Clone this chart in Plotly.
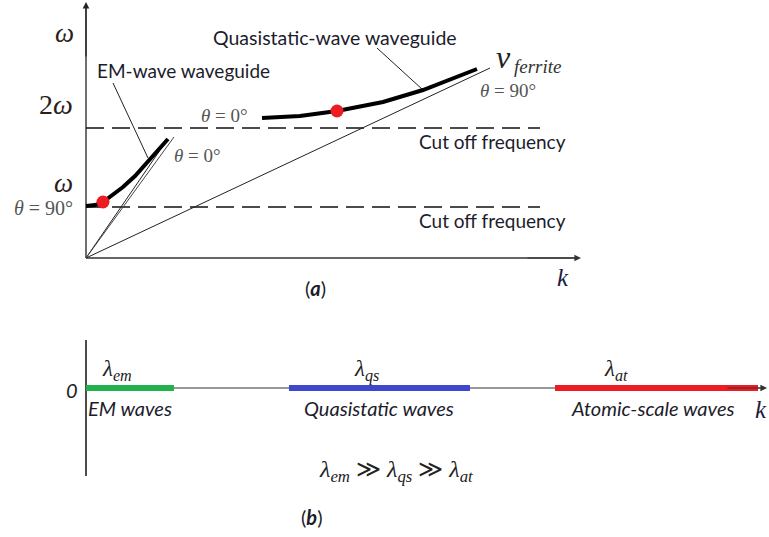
import plotly.graph_objects as go

# ---------------- Panel (a) data (k, omega in schematic units) ----------------
em_k = [0, 9, 17, 27, 37, 49, 61, 72, 82]
em_w = [52, 53, 56, 63, 71, 82, 96, 108, 119]
em_dot = (17, 56)

qs_k = [176, 214, 251, 297, 337, 364, 391]
qs_w = [140, 142, 147, 156, 168, 178, 189]
qs_dot = (251, 147)

ferrite_k = [0, 404]
ferrite_w = [0, 190]
em_asym1_k = [0, 81]
em_asym1_w = [0, 118]
em_asym2_k = [0, 88]
em_asym2_w = [0, 121]

cutoff_levels = [51, 130]
cutoff_k = [0, 454]

em_leader_k = [27, 62]
em_leader_w = [175, 100]
qs_leader_k = [291, 337]
qs_leader_w = [210, 168]

# ---------------- Panel (b) data ----------------
band_names = ["EM waves", "Quasistatic waves", "Atomic-scale waves"]
band_start = [0, 203, 469]
band_end = [88, 384, 672]
band_colors = ["#22b14c", "#3f48cc", "#ed1c24"]
band_lambda = ["<i>λ</i><sub><i>em</i></sub>", "<i>λ</i><sub><i>qs</i></sub>", "<i>λ</i><sub><i>at</i></sub>"]

fig = go.Figure()

TXT = "#1c1c2c"
SERIF = "Liberation Serif"
SANS = "Lato"

W, H = 769, 537
xa = dict(range=[-86, -86 + W], visible=False, domain=[0, 1])
ya = dict(range=[258 - H, 258], visible=False, domain=[0, 1])
xb = dict(range=[-86, -86 + W], visible=False, domain=[0, 1], overlaying="x")
yb = dict(range=[388 - H, 388], visible=False, domain=[0, 1], overlaying="y")

def line(x, y, w=1, color="black", dash=None, xa_="x", ya_="y"):
    fig.add_trace(go.Scatter(x=x, y=y, mode="lines", xaxis=xa_, yaxis=ya_,
                             line=dict(color=color, width=w, dash=dash),
                             hoverinfo="skip", showlegend=False))

line([0, 0], [0, 252], 1.3, "#222")
line([0, 490], [0, 0], 1.4, "#333")

for lev in cutoff_levels:
    line(cutoff_k, [lev, lev], 1.3, "#111", dash="18px,8px")

line(ferrite_k, ferrite_w, 1, "#222")
line(em_asym1_k, em_asym1_w, 1, "#222")
line(em_asym2_k, em_asym2_w, 1, "#444")

line(em_leader_k, em_leader_w, 1, "#222")
line(qs_leader_k, qs_leader_w, 1, "#222")

line(em_k, em_w, 4, "black")
line(qs_k, qs_w, 4, "black")

fig.add_trace(go.Scatter(x=[em_dot[0], qs_dot[0]], y=[em_dot[1], qs_dot[1]], mode="markers",
                         marker=dict(color="#ed1c24", size=13), hoverinfo="skip", showlegend=False))

line([0, 676], [0, 0], 1.2, "#333", xa_="x2", ya_="y2")
line([0, 0], [48, -88], 1.5, "#111", xa_="x2", ya_="y2")
for s, e, c in zip(band_start, band_end, band_colors):
    line([s, e], [0, 0], 6, c, xa_="x2", ya_="y2")

ann = []
def text(x, y, t, size, family=SANS, color=TXT, xref="x", yref="y", **kw):
    ann.append(dict(x=x, y=y, text=t, xref=xref, yref=yref, showarrow=False,
                    font=dict(size=size, family=family, color=color), **kw))

ann.append(dict(x=0, y=256, ax=0, ay=200, xref="x", yref="y", axref="x", ayref="y",
                showarrow=True, arrowhead=2, arrowsize=1.1, arrowwidth=1.2, arrowcolor="#222", text=""))
ann.append(dict(x=495, y=0, ax=440, ay=0, xref="x", yref="y", axref="x", ayref="y",
                showarrow=True, arrowhead=2, arrowsize=1.1, arrowwidth=1.2, arrowcolor="#333", text=""))
ann.append(dict(x=681, y=0, ax=640, ay=0, xref="x2", yref="y2", axref="x2", ayref="y2",
                showarrow=True, arrowhead=2, arrowsize=1.1, arrowwidth=1.2, arrowcolor="#333", text=""))

GR = "#555"
text(-22, 225, "<i>ω</i>", 27, SERIF, "#2a2018")
text(-30, 154, "2<i>ω</i>", 28, SERIF, "#2a2018")
text(-23, 75, "<i>ω</i>", 27, SERIF, "#2a2018")
text(-43, 50, "<i>θ</i> = 90°", 20, SERIF, GR)
text(111, 103, "<i>θ</i> = 0°", 19, SERIF, GR)
text(138, 143, "<i>θ</i> = 0°", 19, SERIF, GR)
text(97, 188, "EM-wave waveguide", 19)
text(249, 221, "Quasistatic-wave waveguide", 19.5)
text(417, 201, "<i>v</i>", 32, SERIF, "#222")
text(426, 192, "<i>ferrite</i>", 19, SERIF, "#333", xanchor="left")
text(422, 168, "<i>θ</i> = 90°", 19, SERIF, GR)
text(406, 117, "Cut off frequency", 19)
text(406, 38, "Cut off frequency", 19)
text(477, -19, "<i>k</i>", 25, SERIF, "#1c1c3c")
text(229, -30, "(<b><i>a</i></b>)", 20)

text(-14, -2, "<i>0</i>", 20, SANS, "#222", xref="x2", yref="y2")
lam_x = [31, 280, 530]
for lx, lab in zip(lam_x, band_lambda):
    text(lx, 18, lab, 23, SERIF, "#222", xref="x2", yref="y2")
name_x = [44, 293, 567]
for nx, nm in zip(name_x, band_names):
    text(nx, -20, "<i>" + nm + "</i>", 20, SANS, TXT, xref="x2", yref="y2")
text(675, -21, "<i>k</i>", 25, SERIF, "#1c1c3c", xref="x2", yref="y2")
text(310, -83, "<i>λ</i><sub><i>em</i></sub> ≫ <i>λ</i><sub><i>qs</i></sub> ≫ <i>λ</i><sub><i>at</i></sub>",
     24, SERIF, "#222", xref="x2", yref="y2")
text(225, -129, "(<b><i>b</i></b>)", 20, xref="x2", yref="y2")

fig.update_layout(
    width=W, height=H,
    margin=dict(l=0, r=0, t=0, b=0),
    paper_bgcolor="white", plot_bgcolor="white",
    xaxis=xa, yaxis=ya, xaxis2=xb, yaxis2=yb,
    annotations=ann, showlegend=False,
)

fig.write_html("out.html", config={"displayModeBar": False},
               post_script="document.body.style.margin='0';document.body.style.overflow='hidden';")
